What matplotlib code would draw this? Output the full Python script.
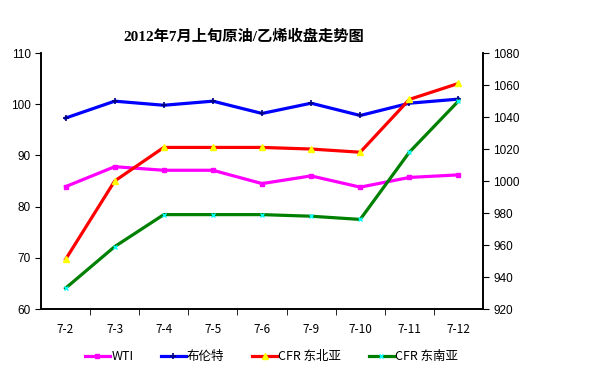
import matplotlib.pyplot as plt

plt.rcParams['font.family'] = ['Liberation Sans', 'Noto Sans CJK SC']

dates = ["7-2", "7-3", "7-4", "7-5", "7-6", "7-9", "7-10", "7-11", "7-12"]
wti = [83.9, 87.8, 87.1, 87.1, 84.5, 86.0, 83.8, 85.7, 86.2]
brent = [97.3, 100.6, 99.8, 100.6, 98.2, 100.2, 97.8, 100.2, 101.0]
cfr_ne = [951, 1000, 1021, 1021, 1021, 1020, 1018, 1051, 1061]
cfr_se = [933, 959, 979, 979, 979, 978, 976, 1018, 1050]

fig = plt.figure(figsize=(6.13, 3.92), dpi=100)
ax = fig.add_axes([0.0669, 0.2117, 0.721, 0.653])
ax2 = ax.twinx()

x = list(range(len(dates)))
l1, = ax.plot(x, wti, color='#ff00ff', lw=2.3, marker='s', ms=3,
              mfc='#ff00ff', mec='#ff00ff', label='WTI')
l2, = ax.plot(x, brent, color='#0000ff', lw=2.3, marker='+', ms=5,
              mec='#000080', mew=1.2, label='布伦特')
l3, = ax2.plot(x, cfr_ne, color='#ff0000', lw=2.3, marker='^', ms=4,
               mfc='#ffff00', mec='#ffff00', label='CFR 东北亚')
l4, = ax2.plot(x, cfr_se, color='#008000', lw=2.3, marker='x', ms=3,
               mec='#00ffff', mew=1, label='CFR 东南亚')

ax.set_xlim(-0.5, len(dates) - 0.5)
ax.set_ylim(60, 110)
ax.set_yticks(range(60, 111, 10))
ax2.set_ylim(920, 1080)
ax2.set_yticks(range(920, 1081, 20))

ax.set_xticks(x)
ax.set_xticklabels(dates, family=['Noto Sans CJK SC'], fontsize=8.5)
ax.set_xticks([i + 0.5 for i in range(len(dates) - 1)], minor=True)
ax.tick_params(axis='x', which='major', length=0, pad=10)
ax.tick_params(axis='x', which='minor', length=4, direction='out')
ax.tick_params(axis='y', labelsize=8.5, length=4, direction='out')
ax2.tick_params(axis='y', labelsize=8.5, length=4, direction='out')

for a in (ax, ax2):
    a.spines['top'].set_visible(False)
    for s in ('left', 'right', 'bottom'):
        a.spines[s].set_linewidth(1.2)

fig.text(0.397, 0.906, '2012年7月上旬原油/乙烯收盘走势图', ha='center', va='center',
         fontsize=11, fontweight='bold', family=['Liberation Serif', 'Noto Sans CJK SC'])

fig.legend(handles=[l1, l2, l3, l4], loc='center', bbox_to_anchor=(0.443, 0.09),
           ncol=4, frameon=False, handlelength=2, handletextpad=0.1,
           columnspacing=2.2, prop={'family': ['Noto Sans CJK SC'], 'size': 9})

fig.savefig('out.png', dpi=100)
